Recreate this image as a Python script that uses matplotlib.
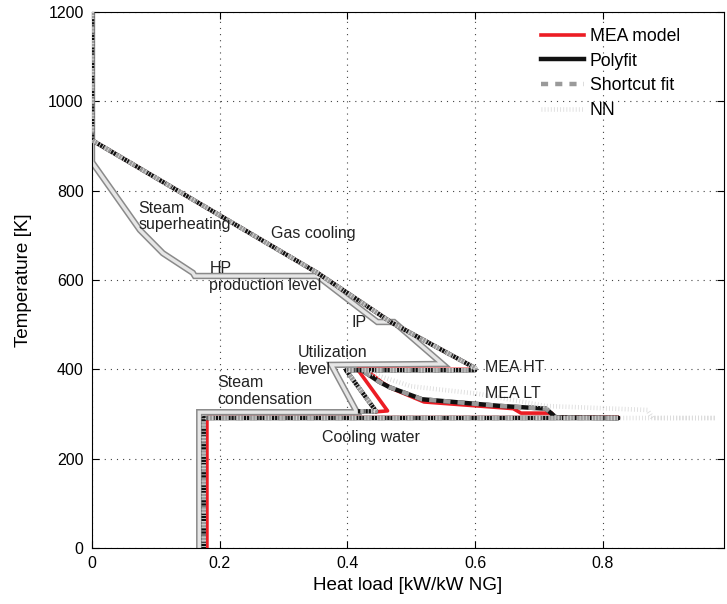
import numpy as np
import matplotlib.pyplot as plt

plt.rcParams['font.family'] = ['Liberation Sans', 'DejaVu Sans']

# Steam network (utility) curve
steam_x = [0, 0, 0.075, 0.111, 0.158, 0.161, 0.353, 0.447, 0.473, 0.549, 0.375, 0.415, 0.168, 0.168]
steam_T = [1200, 864, 712, 660, 616, 609, 609, 506, 506, 412, 410, 304, 304, 0]

# Process curves (NaN splits the two branches)
mea_x = [0, 0, 0.353, 0.47, 0.6, 0.6, 0.416, 0.463, 0.445, np.nan,
         0.432, 0.455, 0.47, 0.52, 0.66, 0.672, 0.72, 0.725, 0.825, 0.18, 0.18]
mea_T = [1200, 913, 616, 504, 403, 400, 400, 307, 305, np.nan,
         396, 370, 357, 327, 312, 302, 302, 292, 292, 292, 0]

poly_x = [0, 0, 0.353, 0.47, 0.6, 0.6, 0.398, 0.445, 0.42, np.nan,
          0.427, 0.45, 0.466, 0.517, 0.64, 0.711, 0.727, 0.825, 0.175, 0.175]
poly_T = [1200, 913, 616, 504, 403, 398, 398, 306, 306, np.nan,
          394, 372, 360, 333, 318, 312, 292, 291, 291, 0]

short_x = [0, 0, 0.353, 0.47, 0.6, 0.6, 0.398, 0.445, 0.42, np.nan,
           0.427, 0.45, 0.466, 0.517, 0.64, 0.711, 0.727, 0.825, 0.175, 0.175]
short_T = [1200, 913, 616, 504, 403, 398, 398, 306, 306, np.nan,
           394, 372, 360, 333, 318, 312, 292, 291, 291, 0]

nn_x = [0, 0, 0.353, 0.47, 0.6, 0.6, 0.398, 0.445, 0.42, np.nan,
        0.435, 0.5, 0.606, 0.71, 0.87, 0.878, 0.977, 0.175, 0.175]
nn_T = [1200, 913, 616, 504, 403, 398, 398, 306, 306, np.nan,
        392, 362, 345, 318, 309, 291, 291, 291, 0]

# Annotations: (text, x, T)
labels = [
    ('Steam\nsuperheating', 0.073, 742),
    ('Gas cooling', 0.281, 703),
    ('HP\nproduction level', 0.184, 606),
    ('IP', 0.406, 504),
    ('Utilization\nlevel', 0.322, 419),
    ('Steam\ncondensation', 0.197, 351),
    ('Cooling water', 0.361, 248),
    ('MEA HT', 0.616, 405),
    ('MEA LT', 0.616, 347),
]

fig = plt.figure(figsize=(7.27, 6.04), dpi=100)
ax = fig.add_axes([92/727, 56/604, 632/727, 536/604])

# steam curve: dark outline with light core
ax.plot(steam_x, steam_T, color='#8a8a8a', lw=4.6, solid_joinstyle='miter', zorder=2)
ax.plot(steam_x, steam_T, color='#e6e6e6', lw=2.4, solid_joinstyle='miter', zorder=2.1)

ax.plot(mea_x, mea_T, color='#ec1c24', lw=2.6, label='MEA model', zorder=3)
ax.plot(poly_x, poly_T, color='#111111', lw=3.2, label='Polyfit', zorder=4)
ax.plot(short_x, short_T, color='#9a9a9a', lw=3.2, ls=(0, (1.6, 1.6)), label='Shortcut fit', zorder=5)
ax.plot(nn_x, nn_T, color='#dcdcdc', lw=3.3, ls=(0, (0.18, 0.5)), label='NN', zorder=6)

for txt, x, t in labels:
    ax.text(x, t, txt, fontsize=11.5, ha='left', va='center', color='#222222',
            linespacing=1.15, zorder=7)

ax.set_xlim(0, 0.99)
ax.set_ylim(0, 1200)
ax.set_xticks([0, 0.2, 0.4, 0.6, 0.8])
ax.set_xticklabels(['0', '0.2', '0.4', '0.6', '0.8'])
ax.set_yticks(np.arange(0, 1201, 200))
ax.tick_params(direction='in', top=True, right=True, labelsize=11.5, length=5, pad=6)
ax.grid(True, color='#444444', ls=(0, (1, 4.5)), lw=0.8)
ax.set_xlabel('Heat load [kW/kW NG]', fontsize=13.6, labelpad=4)
ax.set_ylabel('Temperature [K]', fontsize=13.6, labelpad=12)

ax.legend(loc='upper left', bbox_to_anchor=((541 - 92) / 632, 0.97), frameon=False,
          fontsize=12.7, handlelength=2.45, handletextpad=0.3, labelspacing=0.43,
          borderaxespad=0, borderpad=0)

plt.savefig('out.png', dpi=100)
